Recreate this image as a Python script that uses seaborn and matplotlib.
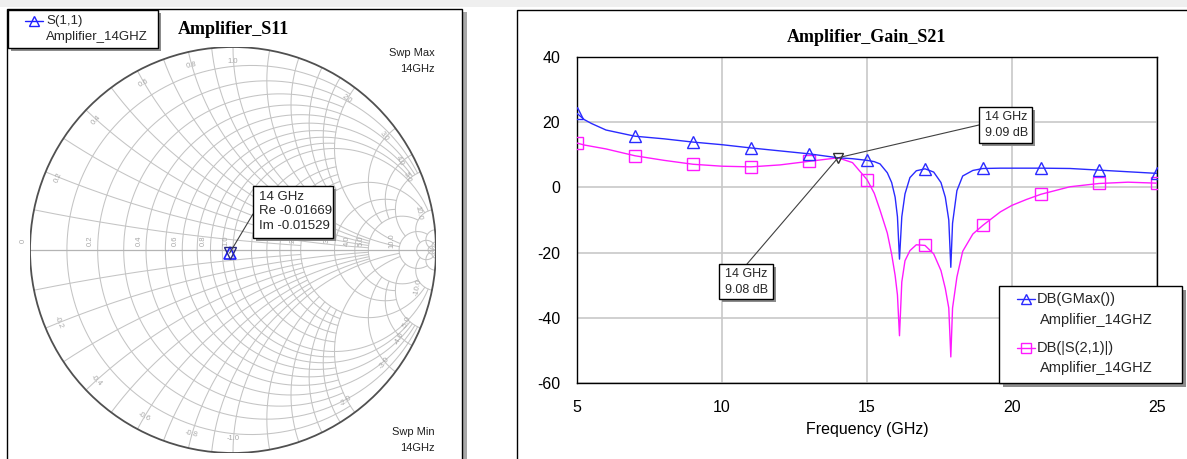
import numpy as np
import matplotlib
matplotlib.use("Agg")
import matplotlib.pyplot as plt
import seaborn as sns
from matplotlib.patches import Rectangle, Circle, ConnectionPatch
from matplotlib.lines import Line2D

# ---------------- data ----------------
freq_ghz = [5.0, 5.25, 5.5, 6.0, 7.0, 8.0, 9.0, 10.0, 11.0, 12.0, 13.0, 14.0, 14.5,
            15.0, 15.25, 15.45, 15.7, 15.85, 15.97, 16.05, 16.12, 16.2, 16.31, 16.48,
            16.7, 17.0, 17.3, 17.55, 17.7, 17.82, 17.89, 17.95, 18.1, 18.3, 18.65,
            19.0, 19.6, 20.0, 20.5, 21.0, 22.0, 23.0, 24.0, 25.0]
gmax_db = [22.7, 20.8, 19.6, 17.6, 15.7, 14.9, 13.9, 13.1, 12.1, 11.2, 10.3, 9.09, 8.8,
           8.3, 7.9, 7.2, 4.5, 1.5, -3.0, -9.0, -22.0, -9.0, -2.0, 3.0,
           5.1, 5.7, 4.7, 1.5, -3.0, -10.0, -24.5, -11.0, -1.0, 3.5, 5.2,
           5.8, 5.9, 5.9, 5.9, 5.9, 5.8, 5.3, 4.8, 4.3]
s21_db = [13.6, 13.0, 12.6, 11.8, 9.7, 8.3, 7.1, 6.5, 6.3, 6.9, 8.0, 9.08, 7.6,
          2.4, -1.8, -7.0, -14.0, -20.5, -27.0, -33.0, -45.5, -29.0, -22.5, -19.4,
          -17.6, -17.8, -20.4, -25.5, -31.0, -37.0, -52.0, -37.0, -27.5, -19.6, -14.3,
          -11.6, -7.5, -5.5, -3.7, -2.1, 0.2, 1.2, 1.6, 1.3]
marker_freqs = [5, 7, 9, 11, 13, 15, 17, 19, 21, 23, 25]

marker_f = 14
marker_gmax = 9.09
marker_s21 = 9.08

s11_re = -0.01669
s11_im = -0.01529

x_ticks = [5, 10, 15, 20, 25]
y_ticks = [-60, -40, -20, 0, 20, 40]

smith_values = [0.1, 0.2, 0.3, 0.4, 0.5, 0.6, 0.7, 0.8, 0.9, 1.0,
                1.2, 1.4, 1.6, 1.8, 2.0, 3.0, 4.0, 5.0, 10.0, 20.0, 50.0]
smith_limits = [2, 5, 2, 5, 2, 5, 2, 5, 2, 10,
                2, 2, 2, 2, 10, 5, 5, 10, 20, np.inf, np.inf]
smith_axis_labels = [(0.0, "0"), (0.2, "0.2"), (0.4, "0.4"), (0.6, "0.6"), (0.8, "0.8"),
                     (1.0, "1.0"), (2.0, "2"), (3.0, "3"), (4.0, "4.0"), (5.0, "5.0"),
                     (10.0, "10.0")]
smith_edge_labels = [0.2, 0.4, 0.6, 0.8, 1.0, 2.0, 3.0, 4.0, 5.0, 10.0]

# ---------------- style ----------------
sns.set_theme(style="white")
plt.rcParams['font.family'] = ['Liberation Sans', 'DejaVu Sans']
plt.rcParams['axes.unicode_minus'] = False
SERIF = ['Liberation Serif', 'DejaVu Serif']

W, H = 1187, 459
fig = plt.figure(figsize=(W / 100, H / 100), dpi=100)
fig.patch.set_facecolor('white')


def fx(x):
    return x / W


def fy(y):
    return 1 - y / H


def rect_px(x0, y0, x1, y1):
    return [fx(x0), fy(y1), (x1 - x0) / W, (y1 - y0) / H]


def box(x0, y0, x1, y1, shadow=3, z=5, lw=1.0):
    fig.add_artist(Rectangle((fx(x0 + shadow), fy(y1 + shadow)), (x1 - x0) / W, (y1 - y0) / H,
                             transform=fig.transFigure, facecolor='#8c8c8c', edgecolor='none', zorder=z))
    fig.add_artist(Rectangle((fx(x0), fy(y1)), (x1 - x0) / W, (y1 - y0) / H,
                             transform=fig.transFigure, facecolor='white', edgecolor='black', lw=lw, zorder=z + 0.1))


# top strip and panel frames
fig.add_artist(Rectangle((0, fy(7)), 1, 7 / H, transform=fig.transFigure, facecolor='#efefef',
                         edgecolor='none', zorder=-5))
fig.add_artist(Rectangle((fx(462), 0), 5 / W, (459 - 12) / H, transform=fig.transFigure,
                         facecolor='#a8a8a8', edgecolor='none', zorder=-4))
fig.add_artist(Rectangle((fx(7), fy(462)), (462 - 7) / W, (462 - 9) / H, transform=fig.transFigure,
                         facecolor='white', edgecolor='black', lw=1.0, zorder=-3))
fig.add_artist(Rectangle((fx(517), fy(462)), (1192 - 517) / W, (462 - 10) / H, transform=fig.transFigure,
                         facecolor='white', edgecolor='black', lw=1.0, zorder=-3))

# ---------------- Smith chart ----------------
ax1 = fig.add_axes(rect_px(30, 47, 436, 453))
ax1.set_xlim(-1, 1)
ax1.set_ylim(-1, 1)
ax1.axis('off')

GRID = '#c4c4c4'


def gamma(z):
    return (z - 1) / (z + 1)


for v, lim in zip(smith_values, smith_limits):
    tmax = np.arctan(lim) if np.isfinite(lim) else np.pi / 2 - 1e-7
    # constant resistance circle
    t = np.linspace(-tmax, tmax, 600)
    g = gamma(v + 1j * np.tan(t))
    ax1.plot(g.real, g.imag, color=GRID, lw=0.75, zorder=1)
    # constant reactance arcs
    s = np.linspace(0, tmax, 600)
    for sign in (1, -1):
        g = gamma(np.tan(s) + 1j * sign * v)
        ax1.plot(g.real, g.imag, color=GRID, lw=0.75, zorder=1)

ax1.plot([-1, 1], [0, 0], color='#b4b4b4', lw=0.9, zorder=1)
ax1.add_patch(Circle((0, 0), 1, fill=False, ec='#505050', lw=1.3, zorder=3))

for r, lab in smith_axis_labels:
    gr = gamma(r + 0j).real
    ax1.text(gr - 0.035, 0.045, lab, rotation=90, fontsize=5.5, color='#a8a8a8',
             ha='center', va='center', zorder=2)
for xv in smith_edge_labels:
    for sign in (1, -1):
        g = gamma(1j * sign * xv) * 0.93
        ang = np.degrees(np.arctan2(g.imag, g.real))
        rot = ang - 90 if sign > 0 else ang + 90
        lab = f"{xv:.1f}" if sign > 0 else f"-{xv:.1f}"
        ax1.text(g.real, g.imag, lab, rotation=rot, fontsize=5.5, color='#a8a8a8',
                 ha='center', va='center', zorder=2)

ax1.plot([s11_re], [s11_im], marker='^', ms=8, mfc='none', mec='#1f1fff', mew=1.2, zorder=6)
ax1.plot([s11_re], [s11_im], marker='v', ms=8, mfc='none', mec='#2a2a80', mew=1.0, zorder=6)
ax1.set_title('Amplifier_S11', fontfamily=SERIF, fontweight='bold', fontsize=13, pad=9, color='black')

# S11 callout
box(253, 186, 333, 238)
for i, line in enumerate(["14 GHz", f"Re {s11_re:.5f}", f"Im {s11_im:.5f}"]):
    fig.text(fx(259), fy(197 + 14.5 * i), line, fontsize=9.5, ha='left', va='center', zorder=7)
fig.add_artist(ConnectionPatch(xyA=(fx(253), fy(214)), coordsA=fig.transFigure,
                               xyB=(s11_re, s11_im), coordsB=ax1.transData,
                               color='#404040', lw=0.8, zorder=4))

# left legend
box(8, 10, 158, 48)
fig.add_artist(Line2D([fx(25), fx(34), fx(43)], [fy(21)] * 3, transform=fig.transFigure, color='#1f1fff',
                      lw=1.0, marker='^', markevery=[1], ms=7, mfc='none', mec='#1f1fff', zorder=7))
fig.text(fx(46), fy(21), "S(1,1)", fontsize=9.5, ha='left', va='center', zorder=7)
fig.text(fx(46), fy(37), "Amplifier_14GHZ", fontsize=9.5, ha='left', va='center', zorder=7)

for ytxt, txt in [(53, 'Swp Max'), (69, '14GHz'), (432, 'Swp Min'), (448, '14GHz')]:
    fig.text(fx(435), fy(ytxt), txt, fontsize=8, ha='right', va='center', color='#202020')

# ---------------- Gain chart ----------------
ax2 = fig.add_axes(rect_px(577, 57, 1157, 383))
mk = [i for i, f in enumerate(freq_ghz) if f in marker_freqs]
BLUE = '#2a2aff'
MAG = '#ff1aff'
sns.lineplot(x=freq_ghz, y=gmax_db, ax=ax2, color=BLUE, lw=1.0, marker='^', markevery=mk,
             markersize=9, markerfacecolor='none', markeredgecolor=BLUE, markeredgewidth=1.0, zorder=4)
sns.lineplot(x=freq_ghz, y=s21_db, ax=ax2, color=MAG, lw=1.0, marker='s', markevery=mk,
             markersize=9, markerfacecolor='none', markeredgecolor=MAG, markeredgewidth=1.0, zorder=3)
ax2.plot([marker_f], [marker_gmax], marker='v', ms=7, mfc='none', mec='#303030', mew=1.0, zorder=6)

ax2.set_xlim(5, 25)
ax2.set_ylim(-60, 40)
ax2.set_xticks(x_ticks)
ax2.set_yticks(y_ticks)
ax2.grid(True, color='#c8c8c8', lw=1.2)
for sp in ax2.spines.values():
    sp.set_color('black')
    sp.set_linewidth(1.0)
ax2.tick_params(length=0, pad=12, labelsize=11.5, colors='black')
ax2.set_xlabel('Frequency (GHz)', fontsize=11.5, labelpad=5, color='black')
ax2.set_ylabel('')
ax2.set_title('Amplifier_Gain_S21', fontfamily=SERIF, fontweight='bold', fontsize=13, pad=11, color='black')

# gain callouts
box(979, 107, 1032, 143)
fig.text(fx(985), fy(117), "14 GHz", fontsize=9, ha='left', va='center', zorder=7)
fig.text(fx(985), fy(133), f"{marker_gmax:.2f} dB", fontsize=9, ha='left', va='center', zorder=7)
fig.add_artist(ConnectionPatch(xyA=(fx(979), fy(125)), coordsA=fig.transFigure,
                               xyB=(marker_f, marker_gmax), coordsB=ax2.transData,
                               color='#404040', lw=0.8, zorder=4))
box(719, 264, 773, 299)
fig.text(fx(725), fy(274), "14 GHz", fontsize=9, ha='left', va='center', zorder=7)
fig.text(fx(725), fy(290), f"{marker_s21:.2f} dB", fontsize=9, ha='left', va='center', zorder=7)
fig.add_artist(ConnectionPatch(xyA=(fx(747), fy(264)), coordsA=fig.transFigure,
                               xyB=(marker_f, marker_s21), coordsB=ax2.transData,
                               color='#404040', lw=0.8, zorder=4))

# gain legend
box(999, 286, 1182, 383, shadow=4)
fig.add_artist(Line2D([fx(1017), fx(1026), fx(1035)], [fy(299)] * 3, transform=fig.transFigure, color=BLUE,
                      lw=1.0, marker='^', markevery=[1], ms=7, mfc='none', mec=BLUE, zorder=7))
fig.text(fx(1037), fy(299), "DB(GMax())", fontsize=10.5, ha='left', va='center', zorder=7)
fig.text(fx(1040), fy(320), "Amplifier_14GHZ", fontsize=10.5, ha='left', va='center', zorder=7)
fig.add_artist(Line2D([fx(1017), fx(1026), fx(1035)], [fy(348)] * 3, transform=fig.transFigure, color=MAG,
                      lw=1.0, marker='s', markevery=[1], ms=7, mfc='none', mec=MAG, zorder=7))
fig.text(fx(1037), fy(348), "DB(|S(2,1)|)", fontsize=10.5, ha='left', va='center', zorder=7)
fig.text(fx(1040), fy(368), "Amplifier_14GHZ", fontsize=10.5, ha='left', va='center', zorder=7)

fig.savefig('out.png', dpi=100, facecolor='white')
